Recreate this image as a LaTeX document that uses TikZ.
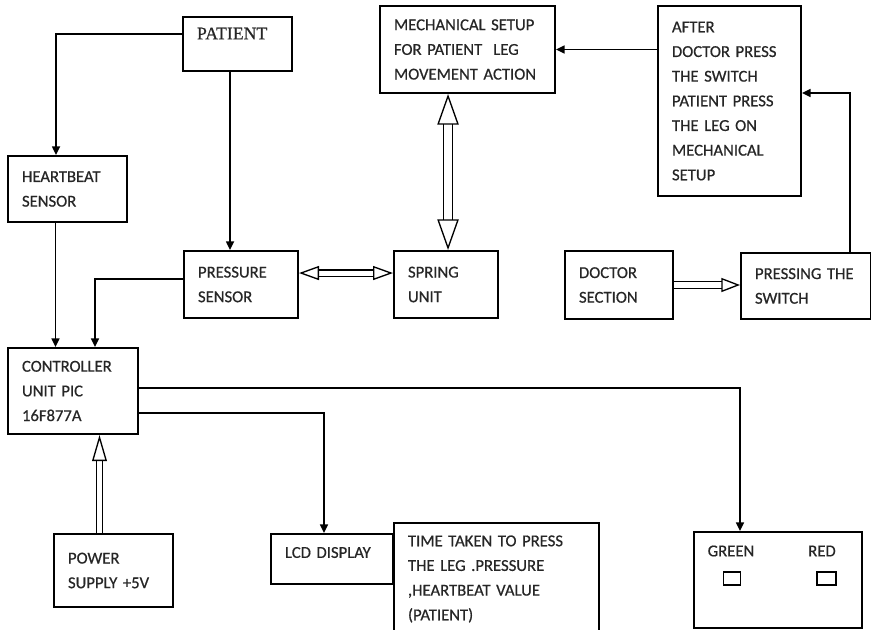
\documentclass[tikz,border=0pt]{standalone}
\usepackage{fontspec}
\setmainfont{Carlito}[FakeBold=0.6]
\newfontfamily\patientfont{Liberation Serif}[FakeBold=0.6]
\usetikzlibrary{arrows.meta}

\tikzset{
  blk/.style={draw, line width=1.5pt, anchor=north west, align=left,
    inner xsep=10.5pt, inner ysep=2pt, text=black!85,
    font=\fontsize{12.5}{18.5}\selectfont},
  arr/.style={-{Triangle[length=6.5pt,width=6pt]}, line width=1.2pt},
  hollow/.style 2 args={double, double distance=3.8pt, line width=1pt,
    -{Triangle[open, length=#1, width=#2, line width=1pt]}},
  hollow both/.style 2 args={double, double distance=3.8pt, line width=1pt,
    {Triangle[open, length=#1, width=#2, line width=1pt]}-{Triangle[open, length=#1, width=#2, line width=1pt]}},
  led/.style={draw, line width=1.1pt, minimum height=10pt, inner sep=0pt}
}

\begin{document}
\begin{tikzpicture}[x=0.75pt, y=-0.75pt]
  \useasboundingbox (0,0) rectangle (871,629);

  % upper row
  \node[blk, minimum width=81.75pt, text width=60.75pt, minimum height=40.5pt, text depth=15.8pt,
    font=\patientfont\fontsize{13.3}{15}\selectfont] (patient) at (182,16) {PATIENT};
  \node[blk, minimum width=131.25pt, text width=110.25pt, minimum height=65.25pt] (mech) at (379,5)
    {MECHANICAL SETUP\\FOR PATIENT\ \ LEG\\MOVEMENT ACTION};
  \node[blk, minimum width=107.25pt, text width=86.25pt, minimum height=142.5pt] (after) at (657,5)
    {AFTER\\DOCTOR PRESS\\THE SWITCH\\PATIENT PRESS\\THE LEG ON\\MECHANICAL\\SETUP};
  \node[blk, minimum width=89.25pt, text width=68.25pt, minimum height=49.5pt] (heart) at (7,155)
    {HEARTBEAT\\SENSOR};

  % middle row
  \node[blk, minimum width=85.5pt, text width=64.5pt, minimum height=50.25pt] (press) at (183,250)
    {PRESSURE\\SENSOR};
  \node[blk, minimum width=78pt, text width=57pt, minimum height=50.25pt] (spring) at (393,250)
    {SPRING\\UNIT};
  \node[blk, minimum width=81pt, text width=60pt, minimum height=51pt] (doctor) at (564,250)
    {DOCTOR\\SECTION};
  \node[blk, minimum width=97.5pt, text width=76.5pt, minimum height=49.5pt] (switch) at (740,252)
    {PRESSING THE\\SWITCH};
  \node[blk, minimum width=97.5pt, text width=76.5pt, minimum height=64.5pt] (ctrl) at (7,347)
    {CONTROLLER\\UNIT PIC\\16F877A};

  % lower row
  \node[blk, minimum width=89.25pt, text width=68.25pt, minimum height=54.75pt] (power) at (53,533)
    {POWER\\SUPPLY +5V};
  \node[blk, minimum width=91.5pt, text width=70.5pt, minimum height=37.5pt, text depth=9.8pt] (lcd) at (270,533)
    {LCD DISPLAY};
  \node[blk, minimum width=153.75pt, text width=132.75pt, minimum height=84pt] (time) at (393,522)
    {TIME TAKEN TO PRESS\\THE LEG .PRESSURE\\,HEARTBEAT VALUE\\(PATIENT)};
  \node[blk, minimum width=126pt, minimum height=72pt] (leds) at (693,531) {};
  \node[text=black!85, font=\fontsize{12.5}{15}\selectfont] (green) at (731,551) {GREEN};
  \node[text=black!85, font=\fontsize{12.5}{15}\selectfont] (red) at (822,551) {RED};
  \node[led, minimum width=12.5pt] (greenled) at (732,578.5) {};
  \node[led, minimum width=14pt] (redled) at (826.5,578.5) {};

  % signal lines
  \draw[arr] ([yshift=7.5pt]patient.west) -| ([xshift=-8.6pt]heart.north);
  \draw[arr] ([xshift=-5.6pt]patient.south) -- ([xshift=-5.6pt]patient.south |- press.north);
  \draw[arr] ([xshift=-9pt]heart.south) -- ([xshift=-9pt]heart.south |- ctrl.north);
  \draw[arr] ([yshift=4.1pt]press.west) -| ([xshift=16.5pt]ctrl.north);
  \draw[arr] (after.west |- mech.east) -- (mech.east);
  \draw[arr] ([xshift=33pt]switch.north) |- ([yshift=6pt]after.east);
  \draw[arr] ([yshift=2.25pt]ctrl.east) -| ([xshift=-28.5pt]leds.north);
  \draw[arr] ([yshift=-16.5pt]ctrl.east) -| ([xshift=-6pt]lcd.north);

  % mechanical and supply links
  \draw[hollow both={15pt}{10.5pt}] ([yshift=8.6pt]press.east) -- ([yshift=8.6pt]spring.west);
  \draw[hollow both={23pt}{16pt}, double distance=5.5pt] ([xshift=-14.6pt]mech.south) -- ([xshift=-14.6pt]mech.south |- spring.north);
  \draw[hollow={14pt}{10.5pt}] (doctor.east) -- (doctor.east -| switch.west);
  \draw[hollow={19.5pt}{11pt}] ([xshift=-10.5pt]power.north) -- ([xshift=-10.5pt]power.north |- ctrl.south);
\end{tikzpicture}
\end{document}
